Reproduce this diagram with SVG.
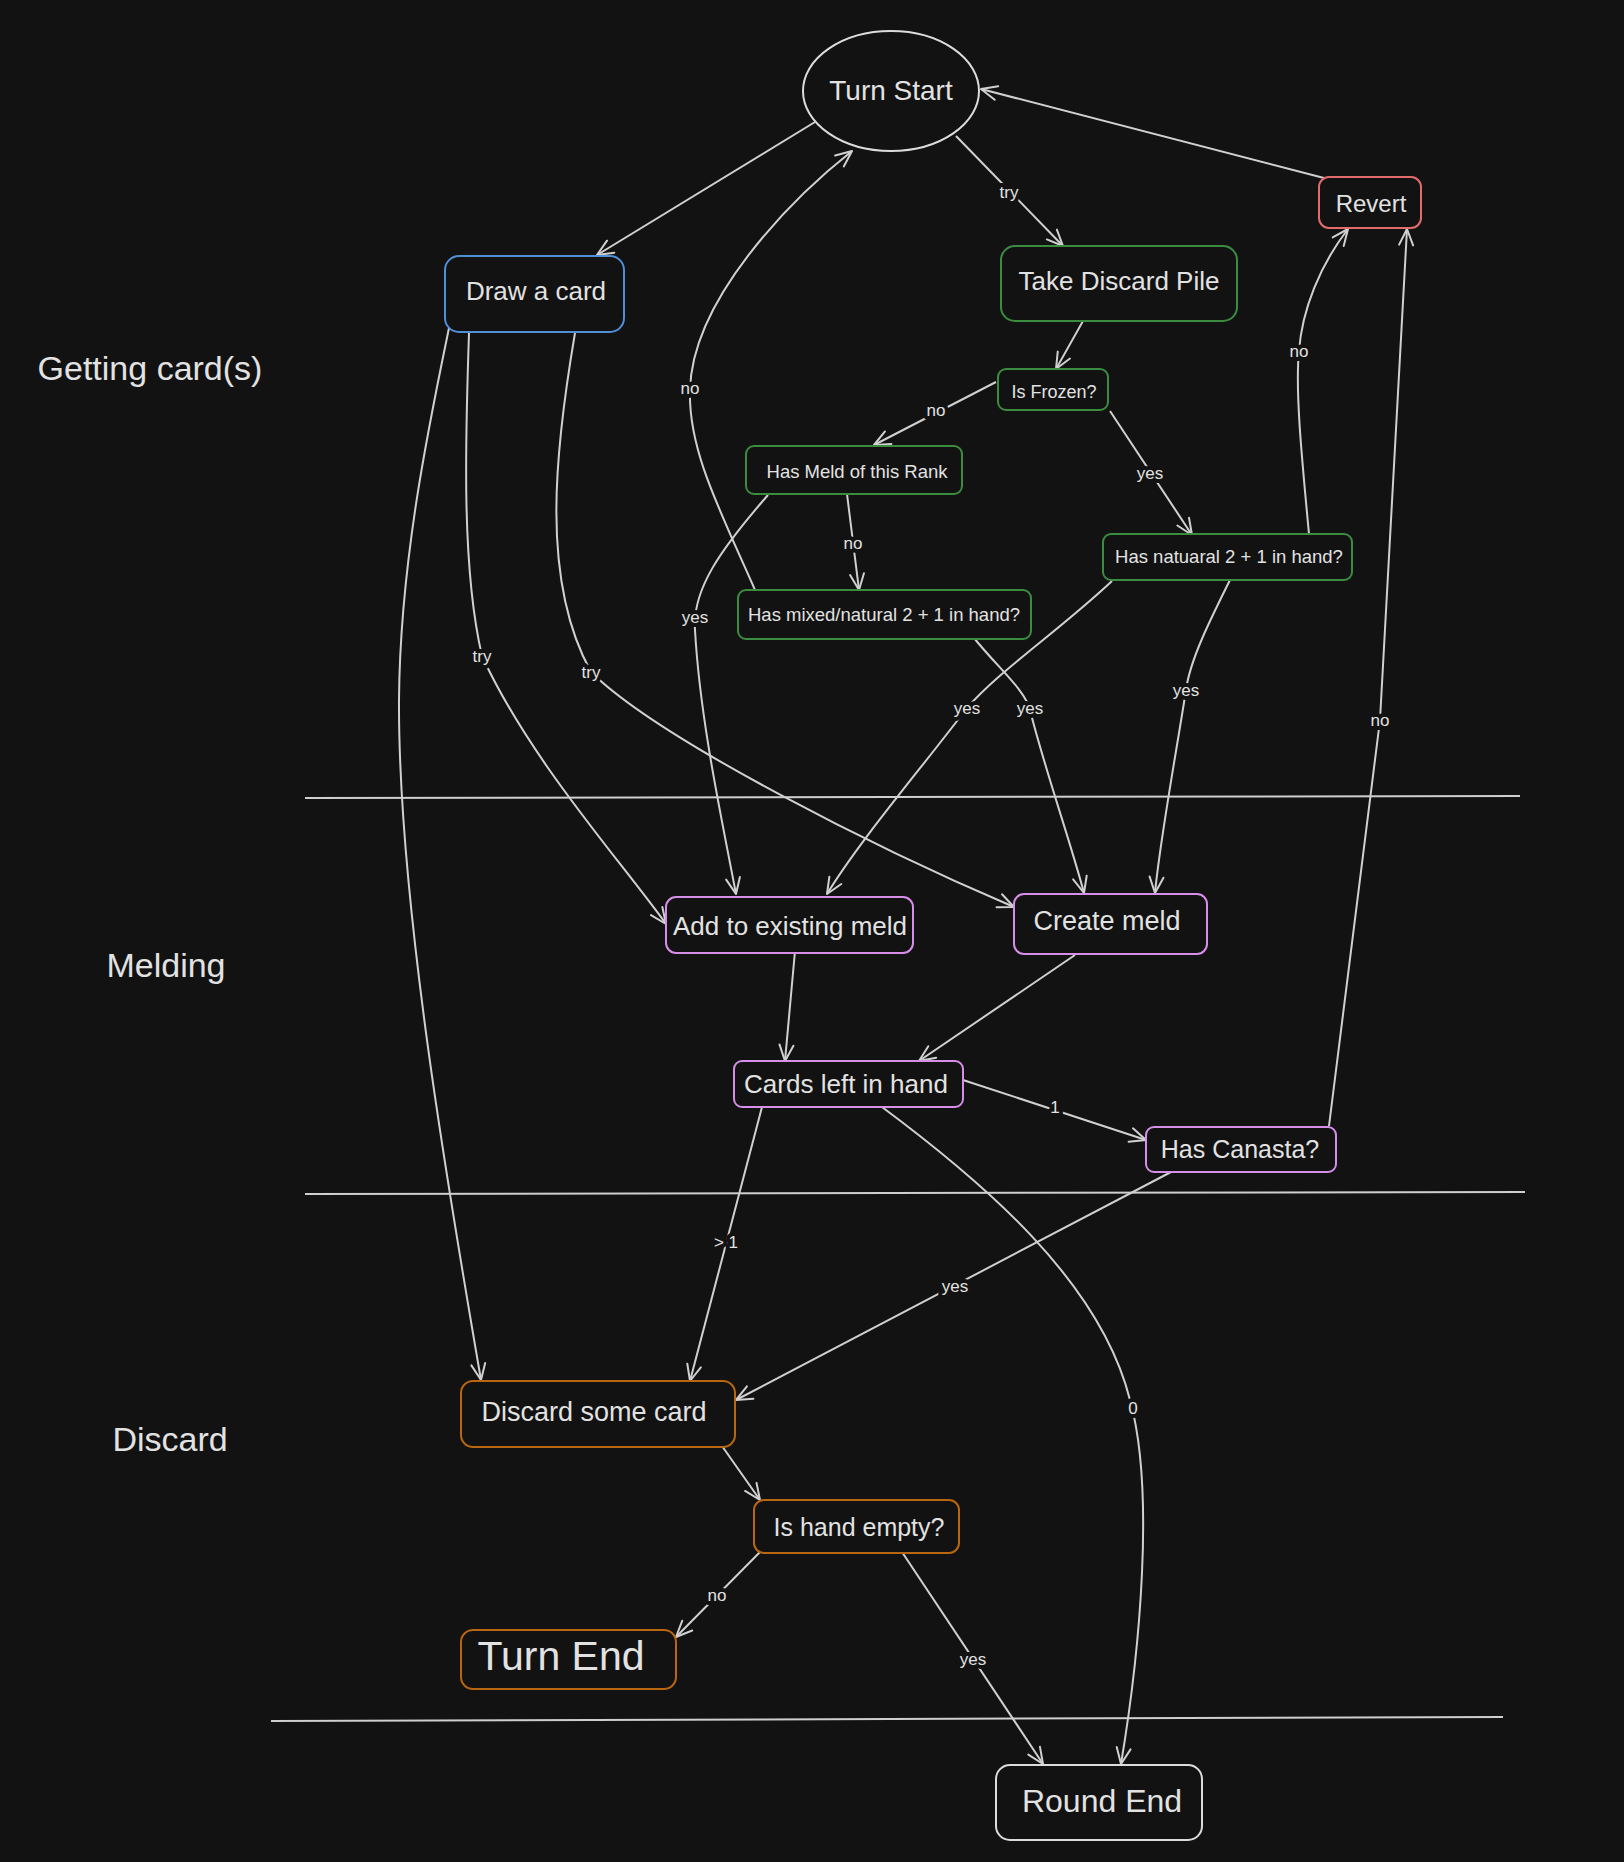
<svg xmlns="http://www.w3.org/2000/svg" width="1624" height="1862" viewBox="0 0 1624 1862">
<style>
text{font-family:"Liberation Sans","DejaVu Sans",sans-serif;fill:#e2e2e2;text-anchor:middle;dominant-baseline:central}
.node rect,.node ellipse{fill:#121212;stroke-width:2}
.blue{stroke:#4f8fd6}.green{stroke:#3b8c41}.red{stroke:#e06c6c}.violet{stroke:#d68ee8}.orange{stroke:#b8660f}.white{stroke:#dcdcdc}
.edge{fill:none;stroke:#d0d0d0;stroke-width:2;marker-end:url(#arr)}
.lbl{font-size:17px;stroke:#121212;stroke-width:8px;paint-order:stroke;stroke-linejoin:round}
.sec{font-size:34px}
.sep{stroke:#cfcfcf;stroke-width:2}
</style>
<defs>
<marker id="arr" viewBox="0 0 20 20" refX="18" refY="10" markerWidth="20" markerHeight="20" markerUnits="userSpaceOnUse" orient="auto">
<path d="M2,3 L18,10 L2,17" fill="none" stroke="#d0d0d0" stroke-width="2" stroke-linecap="round" stroke-linejoin="round"/>
</marker>
</defs>
<rect width="1624" height="1862" fill="#121212"/>

<g id="sections">
<line class="sep" x1="305" y1="798" x2="1520" y2="796"/>
<line class="sep" x1="305" y1="1194" x2="1525" y2="1192"/>
<line class="sep" x1="271" y1="1721" x2="1503" y2="1717"/>
<text class="sec" x="150" y="368">Getting card(s)</text>
<text class="sec" x="166" y="965">Melding</text>
<text class="sec" x="170" y="1439">Discard</text>
</g>

<g id="connectors">
<path class="edge" d="M815,122 L597,255"/>
<path class="edge" d="M956,136 L1063,246"/>
<path class="edge" d="M1324,178 L981,89"/>
<path class="edge" d="M1083,321 L1056,369"/>
<path class="edge" d="M996,382 L874,445"/>
<path class="edge" d="M1110,411 L1192,535"/>
<path class="edge" d="M847,494 L859,590"/>
<path class="edge" d="M768,495 C720,550 692,590 695,630 C700,720 722,820 736,894"/>
<path class="edge" d="M755,590 C720,510 688,450 690,390 C692,300 790,200 852,151"/>
<path class="edge" d="M974,638 C1000,670 1025,690 1030,710 C1045,770 1070,840 1084,893"/>
<path class="edge" d="M1112,581 C1060,630 1000,670 967,708 C920,770 860,840 827,894"/>
<path class="edge" d="M1231,578 C1210,620 1190,660 1186,690 C1175,760 1160,840 1155,893"/>
<path class="edge" d="M1309,534 C1302,460 1295,390 1299,351 C1302,310 1320,265 1348,229"/>
<path class="edge" d="M1329,1126 Q1372,790 1380,720 Q1393,480 1407,229"/>
<path class="edge" d="M449,328 C430,420 400,560 399,700 C398,900 450,1200 481,1380"/>
<path class="edge" d="M469,333 C465,450 462,570 482,656 C530,760 620,860 666,924"/>
<path class="edge" d="M575,333 C555,450 540,580 591,672 C660,740 880,850 1014,907"/>
<path class="edge" d="M795,951 L785,1061"/>
<path class="edge" d="M1075,955 L919,1061"/>
<path class="edge" d="M963,1080 L1146,1140"/>
<path class="edge" d="M762,1107 L690,1381"/>
<path class="edge" d="M882,1107 C980,1180 1100,1280 1130,1400 C1155,1490 1140,1650 1121,1764"/>
<path class="edge" d="M1171,1172 L736,1400"/>
<path class="edge" d="M722,1446 L760,1500"/>
<path class="edge" d="M760,1552 L676,1637"/>
<path class="edge" d="M902,1552 L1043,1764"/>
<text class="lbl" x="1009" y="192">try</text>
<text class="lbl" x="936" y="410">no</text>
<text class="lbl" x="1150" y="473">yes</text>
<text class="lbl" x="853" y="543">no</text>
<text class="lbl" x="690" y="388">no</text>
<text class="lbl" x="695" y="617">yes</text>
<text class="lbl" x="1299" y="351">no</text>
<text class="lbl" x="967" y="708">yes</text>
<text class="lbl" x="1030" y="708">yes</text>
<text class="lbl" x="1186" y="690">yes</text>
<text class="lbl" x="1380" y="720">no</text>
<text class="lbl" x="482" y="656">try</text>
<text class="lbl" x="591" y="672">try</text>
<text class="lbl" x="1055" y="1107">1</text>
<text class="lbl" x="726" y="1242">&gt; 1</text>
<text class="lbl" x="1133" y="1408">0</text>
<text class="lbl" x="955" y="1286">yes</text>
<text class="lbl" x="717" y="1595">no</text>
<text class="lbl" x="973" y="1659">yes</text>
</g>

<g id="turn-start" class="node"><ellipse class="white" cx="891" cy="91" rx="88" ry="60"/><text x="891" y="90" font-size="28">Turn Start</text></g>
<g id="draw-card" class="node"><rect class="blue" x="445" y="256" width="179" height="76" rx="14"/><text x="536" y="291" font-size="26">Draw a card</text></g>
<g id="take-discard" class="node"><rect class="green" x="1001" y="246" width="236" height="75" rx="14"/><text x="1119" y="281" font-size="26">Take Discard Pile</text></g>
<g id="revert" class="node"><rect class="red" x="1319" y="177" width="102" height="51" rx="10"/><text x="1371" y="203" font-size="24">Revert</text></g>
<g id="is-frozen" class="node"><rect class="green" x="998" y="369" width="110" height="41" rx="8"/><text x="1054" y="392" font-size="18">Is Frozen?</text></g>
<g id="has-meld" class="node"><rect class="green" x="746" y="446" width="216" height="48" rx="8"/><text x="857" y="471" font-size="18.5">Has Meld of this Rank</text></g>
<g id="has-natural" class="node"><rect class="green" x="1103" y="534" width="249" height="46" rx="8"/><text x="1229" y="556" font-size="18.5">Has natuaral 2 + 1 in hand?</text></g>
<g id="has-mixed" class="node"><rect class="green" x="738" y="590" width="293" height="49" rx="8"/><text x="884" y="614" font-size="18.5">Has mixed/natural 2 + 1 in hand?</text></g>
<g id="add-existing" class="node"><rect class="violet" x="666" y="897" width="247" height="56" rx="10"/><text x="790" y="926" font-size="26">Add to existing meld</text></g>
<g id="create-meld" class="node"><rect class="violet" x="1014" y="894" width="193" height="60" rx="10"/><text x="1107" y="921" font-size="27">Create meld</text></g>
<g id="cards-left" class="node"><rect class="violet" x="734" y="1061" width="229" height="46" rx="8"/><text x="846" y="1084" font-size="26">Cards left in hand</text></g>
<g id="has-canasta" class="node"><rect class="violet" x="1146" y="1127" width="190" height="45" rx="8"/><text x="1240" y="1149" font-size="25">Has Canasta?</text></g>
<g id="discard-card" class="node"><rect class="orange" x="461" y="1381" width="274" height="66" rx="12"/><text x="594" y="1412" font-size="27">Discard some card</text></g>
<g id="hand-empty" class="node"><rect class="orange" x="754" y="1500" width="205" height="53" rx="10"/><text x="859" y="1527" font-size="25">Is hand empty?</text></g>
<g id="turn-end" class="node"><rect class="orange" x="461" y="1630" width="215" height="59" rx="12"/><text x="561" y="1656" font-size="41">Turn End</text></g>
<g id="round-end" class="node"><rect class="white" x="996" y="1765" width="206" height="75" rx="14"/><text x="1102" y="1801" font-size="32">Round End</text></g>
</svg>
